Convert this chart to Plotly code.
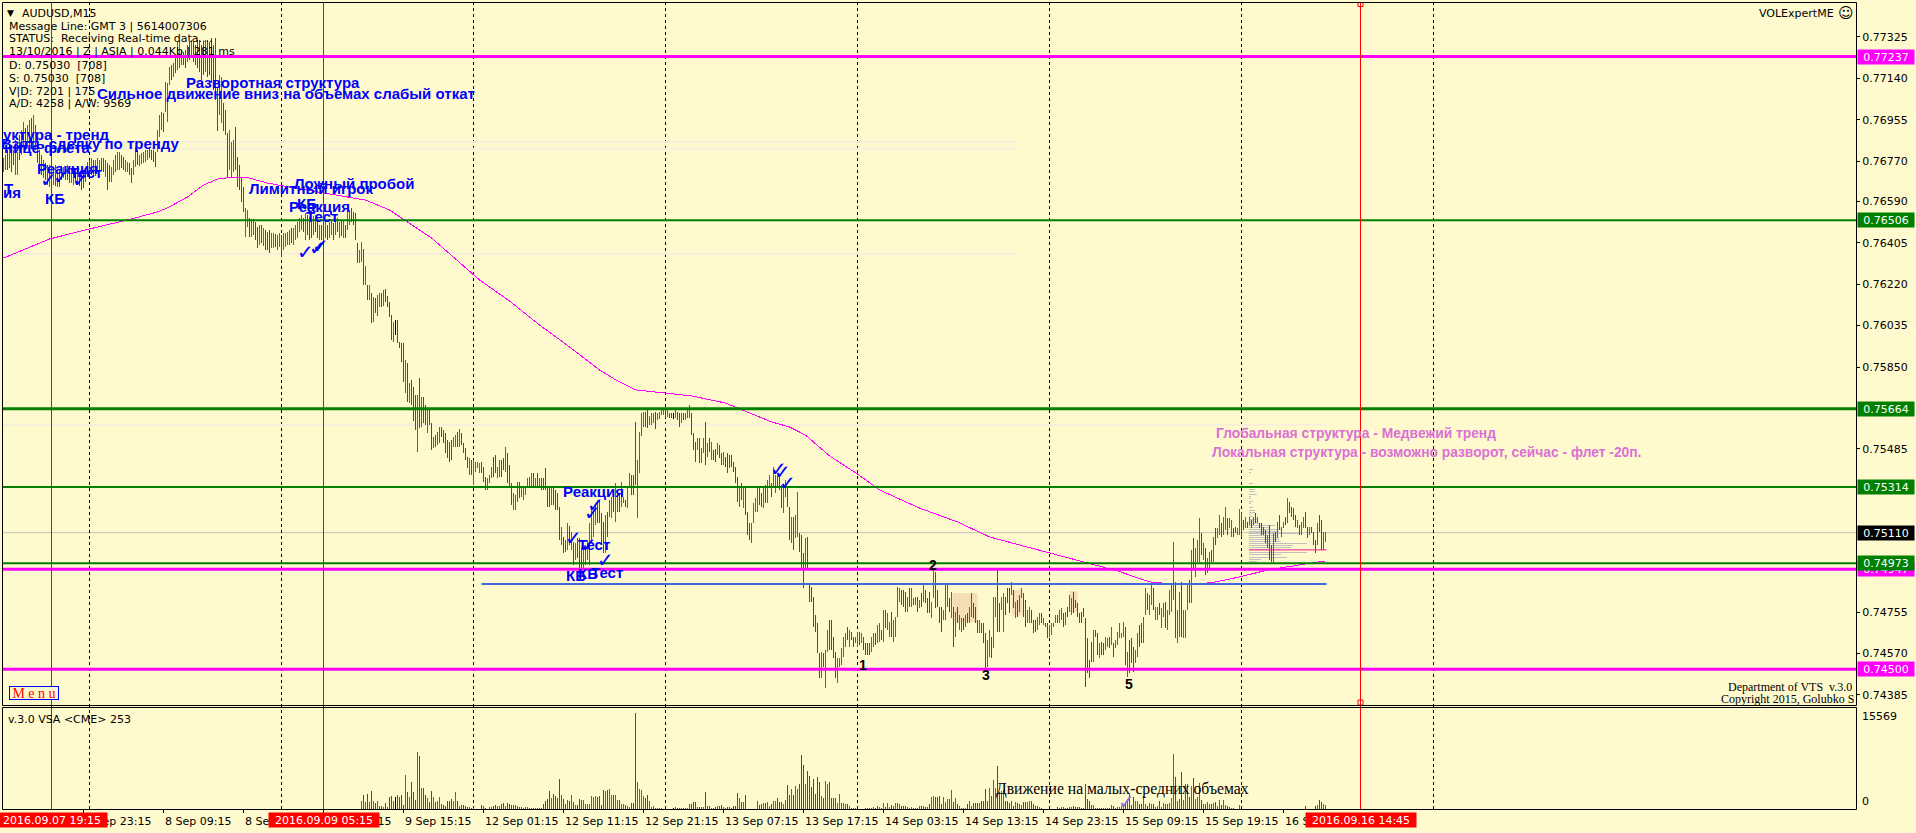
import plotly.graph_objects as go

W, H = 1916, 833

BAR_HIGH = [
76784,76797,76820,76842,76820,76820,76865,76811,76887,76909,
76945,76918,76932,76954,76963,76976,76932,76833,76820,76797,
76775,76762,76753,76753,76744,76731,76753,76722,76731,76748,
76744,76740,76753,76740,76740,76731,76722,76740,76722,76708,
76722,76740,76766,76775,76784,76775,76775,76784,76775,76784,
76784,76775,76762,76753,76744,76775,76797,76811,76811,76797,
76789,76775,76766,76762,76740,76775,76833,76820,76797,76806,
76811,76820,76820,76829,76820,76820,76811,76909,76976,76990,
76985,77124,77119,77191,77200,77209,77231,77302,77307,77267,
77258,77267,77289,77302,77311,77302,77289,77311,77311,77289,
77302,77311,77311,77302,77320,77289,77320,77101,77155,77146,
77030,76999,76896,76909,76856,76865,76923,76789,76753,76699,
76654,76561,76552,76516,76512,76512,76498,76476,76485,76485,
76471,76462,76453,76462,76449,76449,76444,76440,76449,76440,
76449,76449,76453,76462,76471,76471,76485,76498,76516,76529,
76516,76538,76529,76520,76498,76525,76529,76507,76485,76485,
76485,76498,76485,76498,76507,76494,76507,76516,76498,76507,
76507,76485,76543,76552,76561,76543,76538,76404,76373,76409,
76377,76301,76217,76217,76181,76163,76158,76172,76181,76181,
76194,76199,76167,76141,76083,76051,76060,76060,75962,75957,
75957,75882,75868,75779,75792,75761,75725,75725,75801,75716,
75716,75680,75658,75658,75600,75537,75546,75560,75582,75582,
75569,75555,75524,75515,75524,75537,75546,75560,75573,75555,
75511,75488,75448,75444,75435,75435,75426,75426,75421,75426,
75403,75359,75354,75368,75403,75448,75457,75403,75435,75435,
75444,75493,75466,75412,75332,75287,75278,75336,75336,75314,
75310,75314,75354,75359,75377,75377,75354,75377,75354,75354,
75354,75399,75314,75314,75314,75314,75301,75287,75225,75135,
75091,75077,75153,75140,75113,75068,75064,75086,75086,75046,
75046,75055,75077,75153,75225,75211,75234,75247,75256,75198,
75158,75189,75202,75256,75269,75292,75332,75301,75287,75336,
75269,75256,75314,75377,75368,75368,75605,75435,75560,75645,
75649,75649,75658,75631,75645,75645,75649,75645,75649,75658,
75663,75658,75658,75645,75645,75645,75658,75649,75645,75645,
75645,75645,75667,75680,75645,75555,75515,75533,75533,75488,
75533,75604,75511,75533,75515,75479,75484,75511,75502,75466,
75470,75448,75466,75457,75457,75426,75403,75359,75314,75332,
75310,75310,75202,75153,75153,75243,75265,75314,75314,75287,
75310,75323,75345,75368,75332,75403,75368,75368,75359,75323,
75310,75345,75310,75225,75180,75180,75189,75292,75109,75100,
75019,75086,75091,74885,74867,74823,74742,74706,74572,74577,
74572,74586,74675,74720,74720,74644,74577,74550,74550,74595,
74644,74662,74689,74675,74666,74644,74644,74666,74666,74662,
74644,74617,74617,74617,74644,74662,74662,74698,74706,74675,
74765,74765,74751,74711,74756,74720,74733,74867,74863,74854,
74854,74845,74823,74863,74863,74818,74823,74823,74809,74840,
74885,74854,74818,74845,74800,74943,74934,74854,74778,74778,
74765,74876,74876,74818,74845,74778,74756,74778,74742,74729,
74729,74742,74751,74778,74840,74796,74778,74720,74720,74706,
74706,74662,74631,74675,74644,74823,74823,74943,74796,74823,
74840,74823,74863,74863,74890,74854,74800,74809,74832,74863,
74840,74809,74765,74778,74765,74720,74720,74733,74751,74751,
74729,74706,74706,74697,74706,74706,74742,74742,74765,74773,
74751,74756,74778,74832,74818,74845,74809,74796,74751,74756,
74773,74729,74639,74541,74622,74675,74675,74662,74617,74622,
74617,74644,74639,74644,74689,74617,74631,74666,74706,74662,
74711,74689,74577,74631,74639,74599,74586,74662,74697,74706,
74733,74863,74840,74832,74876,74863,74778,74778,74796,74773,
74796,74800,74765,74854,74885,75068,74890,74765,74845,74890,
74765,74765,74885,74899,75033,75086,75042,75077,75176,75109,
75064,75042,74997,75024,75033,75091,75131,75131,75189,75153,
75180,75225,75176,75176,75167,75131,75135,75131,75216,75202,
75167,75180,75158,75180,75167,75180,75198,75180,75153,75153,
75135,75122,75100,75144,75055,75109,75113,75158,75189,75135,
75158,75180,75265,75247,75225,75220,75189,75167,75144,75158,
75180,75202,75135,75135,75135,75113,75077,75153,75189,75167,75113,75113,
]

BAR_LOW = [
76722,76731,76731,76740,76722,76753,76708,76708,76775,76797,
76833,76820,76829,76842,76842,76833,76820,76762,76731,76708,
76695,76686,76663,76654,76650,76663,76659,76654,76654,76686,
76695,76686,76686,76672,76672,76663,76672,76663,76659,76641,
76650,76677,76699,76695,76708,76699,76704,76722,76722,76731,
76722,76699,76641,76677,76677,76708,76722,76731,76731,76739,
76731,76722,76722,76708,76672,76708,76744,76753,76748,76757,
76762,76766,76775,76784,76775,76766,76744,76811,76878,76909,
76900,76990,76945,77110,77133,77146,77164,77177,77186,77200,
77200,77186,77213,77222,77231,77213,77200,77186,77168,77133,
77155,77168,77146,77155,77119,77088,77043,76905,76976,76940,
76905,76887,76699,76731,76699,76721,76731,76654,76641,76587,
76543,76431,76476,76431,76431,76440,76418,76382,76395,76404,
76391,76373,76373,76360,76382,76382,76386,76373,76386,76342,
76373,76386,76395,76395,76404,76395,76418,76427,76453,76462,
76453,76418,76440,76418,76427,76440,76453,76427,76418,76418,
76404,76427,76418,76427,76440,76418,76440,76453,76427,76436,
76427,76427,76462,76485,76498,76485,76418,76315,76315,76319,
76217,76217,76150,76150,76047,76051,76091,76078,76118,76118,
76123,76141,76118,76074,75971,75962,75993,75957,75935,75872,
75783,75734,75694,75689,75680,75609,75569,75470,75578,75582,
75600,75591,75555,75591,75479,75488,75493,75502,75511,75537,
75511,75466,75444,75426,75435,75493,75493,75493,75493,75502,
75466,75435,75399,75368,75368,75323,75381,75399,75377,75377,
75336,75301,75301,75332,75354,75359,75377,75354,75359,75359,
75390,75381,75332,75314,75234,75211,75211,75247,75265,75269,
75256,75278,75310,75314,75314,75314,75314,75314,75310,75301,
75301,75301,75225,75225,75234,75234,75211,75211,75077,75055,
75019,75024,75033,75055,75033,74966,74988,74997,74952,74943,
74943,74966,74988,74966,75068,75091,75144,75153,75153,75055,
75019,75019,75091,75180,75176,75202,75158,75202,75202,75225,
75243,75225,75220,75314,75278,75278,75323,75176,75377,75542,
75582,75582,75578,75591,75591,75600,75573,75613,75618,75636,
75636,75622,75627,75622,75622,75618,75622,75613,75582,75600,
75613,75613,75622,75622,75546,75479,75426,75479,75421,75421,
75466,75412,75448,75470,75435,75435,75426,75457,75444,75412,
75412,75403,75377,75399,75403,75381,75332,75247,75225,75256,
75220,75189,75100,75077,75064,75153,75202,75202,75234,75225,
75220,75243,75243,75310,75269,75314,75287,75310,75301,75220,
75198,75269,75225,75077,75064,75033,75086,75091,75024,74943,
74863,74943,74943,74800,74800,74689,74666,74572,74461,74461,
74510,74416,74577,74586,74586,74550,74461,74438,74510,74519,
74555,74599,74631,74599,74631,74599,74617,74599,74608,74617,
74586,74563,74563,74563,74577,74599,74608,74617,74622,74631,
74622,74684,74675,74644,74644,74622,74644,74733,74800,74787,
74778,74756,74756,74778,74778,74787,74787,74756,74773,74778,
74800,74796,74751,74751,74729,74818,74773,74778,74707,74666,
74720,74720,74778,74756,74729,74599,74644,74707,74675,74666,
74675,74689,74707,74707,74733,74729,74707,74662,74662,74662,
74617,74496,74510,74555,74550,74595,74733,74666,74666,74765,
74666,74742,74796,74751,74832,74773,74729,74733,74756,74818,
74733,74689,74707,74707,74707,74662,74666,74675,74697,74707,
74697,74689,74639,74644,74653,74689,74707,74707,74707,74720,
74689,74697,74733,74756,74742,74751,74773,74733,74707,74707,
74733,74421,74483,74461,74532,74532,74644,74563,74550,74563,
74563,74586,74599,74595,74608,74555,74595,74608,74639,74639,
74644,74519,74465,74483,74528,74487,74528,74555,74599,74617,
74617,74742,74765,74742,74787,74765,74720,74720,74742,74684,
74733,74684,74675,74742,74756,74809,74640,74617,74644,74644,
74640,74640,74765,74796,74796,74952,74912,74979,74979,75010,
74988,74921,74930,74952,74979,74979,75055,75086,75100,75091,
75100,75122,75100,75131,75091,75091,75109,75100,75100,75091,
75122,75131,75131,75144,75131,75144,75153,75153,75131,75100,
75100,75064,75042,74988,74979,74979,75068,75086,75122,75091,
75131,75144,75153,75198,75180,75167,75135,75131,75100,75100,
75131,75131,75086,75100,75109,75055,75019,75055,75113,75033,75033,75068,
]

BAR_DIR = (
"GGRGRRGGRG" "GRGGRGRRRR" "GRRGRGRGRR" "GGRRGGRGRR" "RRGRGRGGGR"
"RGRRGGGGGR" "RGGRRGGRGG" "GGGRRRRGGG" "RGGGRGRGGG" "RRGRGRRRRR"
"RGRRRRRRGG" "RRRGGGRRRR" "RGGRGGRRGR" "GRRRGGRGGR" "GGGGRGGGGG"
"RGRRRGRRGR" "RGRGGRGRGR" "GRGGRRRRGG" "RGRGRGRGGR" "GRRRRGKRRR"
"RGRGRRRGRG" "RRGRRGRGGR" "RRRRRGGRGR" "RRRGRGGGGR" "RRGGGRRGGR"
"RGRRRGGGRG" "GGGGGRGRGR" "RRRRGRRRRG" "RRGRGRGRRR" "GGGGGGGRRR"
"RGRGGRGGRG" "GRGGRRRGGG" "GRRGGGRGGG" "GRGRRKGRRG" "RGGGRRRGRG"
"GRGRGRRGRR" "GRRRRRRRGR" "GRRRGGGGRR" "GRGGRGGRRR" "GGRRGRGGRR"
"RGRRRRRRRG" "RGGRRRRGGG" "GGRGRRGGRG" "RRRRGGRGGR" "GRGGRGGGGR"
"RRGRGRGRGR" "GRRRGGRRRR" "GGGRGRGRGG" "RGRGGRRRGR" "RRGGRGGRRG"
"GRRRGRGRGG" "RRGGRRRGGR" "GRRGGGGRGG" "RGRGGRRRRR" "RRRRRGRRGR"
"RGGRGRGGGG" "GRGRRRGGRR" "GGRGGRGGRG" "GRGGGGRGGR" "GGGRGRGGGR"
"GRGGRGRGGR" "GGRGGRRGGR" "RGRGRGRGRR" "RRGRRGRGRG" "GRGRRRRGRG"
"GRRGRRRGRRGG"
)

VOLUME_START_BAR = 179
VOLUME = [
1232,2156,1078,2310,1078,2772,1232,924,1232,462,
462,308,924,308,1848,2002,1232,1848,2156,1848,
2156,616,5236,2618,1848,4158,2618,1386,8778,8162,
3234,3234,2156,1694,1078,2772,1848,1078,1232,1848,
770,616,462,1232,1232,1540,1232,2618,1232,462,
616,616,462,308,308,154,154,0,0,0,
616,462,154,0,308,308,462,616,462,462,
770,924,462,924,770,616,616,616,462,308,
308,154,308,308,154,154,154,154,154,154,
154,770,1232,1540,2772,1694,2310,2002,1694,4620,
2156,1540,770,1386,1232,2156,1078,616,616,1540,
1386,1386,770,770,770,2002,1848,2002,1848,2002,
616,2926,2772,2926,3080,2156,2156,2156,1386,1386,
770,770,616,462,308,924,924,14784,4158,3080,
2926,2002,1694,2156,1232,308,462,154,154,154,
154,0,0,0,0,0,154,308,154,154,
154,154,154,154,770,770,1078,1078,308,308,
308,308,2618,462,462,154,154,308,462,462,
616,308,154,308,308,154,462,462,2464,1694,
1078,1078,2156,0,0,0,0,0,1232,616,
770,924,924,1078,462,770,1232,1232,1694,1078,
1078,770,1386,3696,2156,3080,2156,3542,3080,3850,
8316,6776,3850,5852,5082,3388,4620,2310,4928,4158,
2002,1694,4312,3850,4158,1694,1694,1694,924,2310,
924,924,770,770,462,154,154,154,0,0,
0,0,154,154,154,154,308,154,462,308,
154,924,308,924,308,616,462,924,924,770,
462,462,462,308,154,308,154,154,154,462,
462,462,308,308,770,1848,2002,1848,1848,2002,
770,1848,1078,1540,1540,2926,1078,1694,770,462,
154,154,154,770,1232,462,924,924,924,924,
1232,1232,3080,1232,3234,2002,4466,3234,6622,2618,
2772,2926,1232,1232,924,1232,462,1078,924,770,
616,1078,1078,1078,1232,1232,770,462,462,308,
154,0,0,0,0,0,0,0,308,154,
308,308,154,154,308,308,462,308,308,308,
154,154,3850,1540,1232,616,616,154,154,154,
154,154,154,154,154,616,462,154,308,308,
462,770,1078,1540,2310,616,1848,1232,1232,770,
770,2002,770,462,924,770,770,308,462,1232,
308,924,770,770,924,1694,8470,4928,1232,1540,
5698,1386,3850,3850,1848,3542,4774,1540,1848,4004,
1386,770,770,1078,770,770,924,1078,462,1386,
616,1386,616,462,308,154,154,0,0,616,
0,0,0,0,0,0,0,0,0,0,0,0,0,0,0,0,
0,0,0,0,0,0,0,0,0,0,0,0,0,0,0,0,
462,0,0,0,0,462,616,1386,1078,770,616,
]

MA_BAR = [0,13,23,43,62,77,82,92,100,107,115,121,132,143,158,172,181,193,200,214,
          238,253,268,283,298,307,316,336,344,361,368,384,393,401,413,427,438,458,477,493,
          508,523,541,557,573,584,598,606,618,632,648,661]
MA_PRICE = [76337,76386,76422,76467,76507,76543,76561,76610,76663,76690,76699,76699,76672,76654,76632,76610,76596,76552,76511,76427,
            76239,76145,76038,75940,75837,75788,75748,75730,75721,75689,75663,75605,75582,75546,75453,75372,75301,75220,75158,75091,
            75055,75019,74974,74939,74890,74881,74881,74890,74912,74943,74966,74984]

PROFILE_PRICE = [75393,75380,75331,75304,75293,75282,75273,75264,75250,75241,75223,75211,75202,75192,75181,75170,75159,75152,
                 75143,75134,75125,75116,75107,75098,75089,75080,75071,75062,75053,75045,75036,75022,75014,75000,74991,74982]
PROFILE_SIZE = [2,1,2,3,3,4,1,1,2,1,2,3,3,1,2,4,4,5,13,10,16,15,25,14,15,15,16,29,22,21,16,29,16,19,6,4]
PROFILE_START_BAR = 622.75

LEVEL_PRICE = [0.77237, 0.76506, 0.75664, 0.75314, 0.74973, 0.74947, 0.74500]
LEVEL_COLOR = ["#FF00FF", "#008000", "#008000", "#008000", "#008000", "#FF00FF", "#FF00FF"]
LEVEL_WIDTH = [3, 2, 3, 2, 2, 3, 3]
LEVEL_LABEL = ["0.77237", "0.76506", "0.75664", "0.75314", "0.74973", "0.74947", "0.74500"]
BID_PRICE = 0.75110
SUPPORT_PRICE = 0.74881
SUPPORT_BARS = [239, 661.5]
FAINT_PRICE = [0.76857, 0.76825, 0.76356, 0.75592]
FAINT_END_BAR = [507, 507, 507, 661.5]
POC_PRICE = 0.75033

Y_TICKS = [0.77325, 0.77140, 0.76955, 0.76770, 0.76590, 0.76405, 0.76220, 0.76035, 0.75850, 0.75485, 0.74755, 0.74570, 0.74385]
DAY_SEPARATOR_BARS = [43, 139, 235, 331, 427, 523, 619, 715]
TIME_TICK_BARS = [40, 80, 120, 160, 200, 240, 280, 320, 360, 400, 440, 480, 520, 560, 600, 640]
TIME_TICK_LABELS = ["7 Sep 23:15", "8 Sep 09:15", "8 Sep 19:15", "9 Sep 05:15", "9 Sep 15:15", "12 Sep 01:15",
                    "12 Sep 11:15", "12 Sep 21:15", "13 Sep 07:15", "13 Sep 17:15", "14 Sep 03:15", "14 Sep 13:15",
                    "14 Sep 23:15", "15 Sep 09:15", "15 Sep 19:15", "16 Sep 05:15"]
CURSOR_BARS = [24, 160, 678.5]
CURSOR_LABELS = ["2016.09.07 19:15", "2016.09.09 05:15", "2016.09.16 14:45"]

# tan zones: bars and prices
ZONE_BAR0 = [474.5, 504, 533]
ZONE_BAR1 = [487, 509.5, 537]
ZONE_HIGH = [0.74840, 0.74855, 0.74850]
ZONE_LOW = [0.74710, 0.74740, 0.74755]

CHECK_TEXT = [(48,180),(62,177),(80,180),(305,252),(317,248),(320,246),(573,538),(588,545),(595,505),(592,513),
              (605,560),(778,469),(782,472),(787,483)]

HEADER_LINES = ["Message Line: GMT 3 | 5614007306", "STATUS:  Receiving Real-time data....",
                "13/10/2016 | Z | ASIA | 0.044Kb | 281 ms", "D: 0.75030  [708]", "S: 0.75030  [708]",
                "V|D: 7201 | 175", "A/D: 4258 | A/W: 9569"]

# Screen helpers: only for text placement
px = lambda v: v / W
py = lambda v: 1 - v / H
MONO = "DejaVu Sans"
BOLD = "Liberation Sans"
SERIF = "Liberation Serif"

idx = list(range(len(BAR_DIR)))
COLORS = {"G": "#228B22", "R": "#FF0000", "K": "#000000"}

def segments(xs, lo, hi):
    xo, yo = [], []
    for a, b, c in zip(xs, lo, hi):
        xo += [a, a, None]
        yo += [b, c, None]
    return xo, yo

fig = go.Figure()

# volume profile rows
pxs, pys = [], []
for p, s in zip(PROFILE_PRICE, PROFILE_SIZE):
    pxs += [PROFILE_START_BAR, PROFILE_START_BAR + s, None]
    pys += [p / 1e5, p / 1e5, None]
fig.add_trace(go.Scatter(x=pxs, y=pys, mode="lines", line=dict(color="#C0C0C0", width=1),
                         xaxis="x", yaxis="y", showlegend=False, hoverinfo="skip"))

for key, col in COLORS.items():
    sel = [i for i in idx if BAR_DIR[i] == key]
    xo, yo = segments(sel, [BAR_LOW[i] / 1e5 for i in sel], [BAR_HIGH[i] / 1e5 for i in sel])
    fig.add_trace(go.Scatter(x=xo, y=yo, mode="lines", line=dict(color=col, width=1), xaxis="x", yaxis="y",
                             showlegend=False, hoverinfo="skip"))
    vsel = [i for i in sel if VOLUME_START_BAR <= i < VOLUME_START_BAR + len(VOLUME)
            and VOLUME[i - VOLUME_START_BAR] > 0]
    xo, yo = segments(vsel, [0] * len(vsel), [VOLUME[i - VOLUME_START_BAR] for i in vsel])
    fig.add_trace(go.Scatter(x=xo, y=yo, mode="lines", line=dict(color=col, width=1), xaxis="x", yaxis="y2",
                             showlegend=False, hoverinfo="skip"))

fig.add_trace(go.Scatter(x=MA_BAR, y=[v / 1e5 for v in MA_PRICE], mode="lines",
                         line=dict(color="#FF00FF", width=1), xaxis="x", yaxis="y", showlegend=False))
fig.add_trace(go.Scatter(x=[CURSOR_BARS[2]] * 2, y=[0.77472, 0.74351], mode="markers",
                         marker=dict(symbol="square-open", size=5, color="#FF0000", line=dict(width=1)),
                         xaxis="x", yaxis="y", showlegend=False))

shapes = []
for x0, x1, hi, lo in zip(ZONE_BAR0, ZONE_BAR1, ZONE_HIGH, ZONE_LOW):
    shapes.append(dict(type="rect", xref="x", yref="y", x0=x0, x1=x1, y0=lo, y1=hi, layer="below",
                       fillcolor="#F5DEB3", line=dict(width=0)))
for p, end in zip(FAINT_PRICE, FAINT_END_BAR):
    shapes.append(dict(type="line", xref="x", yref="y", x0=-0.75, x1=end, y0=p, y1=p, layer="below",
                       line=dict(color="#F8EEDC", width=2)))
shapes.append(dict(type="line", xref="paper", yref="y", x0=px(2), x1=px(1856), y0=BID_PRICE, y1=BID_PRICE,
                   layer="below", line=dict(color="#C0C0C0", width=1)))
for b in DAY_SEPARATOR_BARS:
    shapes.append(dict(type="line", xref="x", yref="paper", x0=b, x1=b, y0=py(809), y1=py(2), layer="below",
                       line=dict(color="#000000", width=1, dash="3px,3px")))
for p, c, w in zip(LEVEL_PRICE, LEVEL_COLOR, LEVEL_WIDTH):
    shapes.append(dict(type="line", xref="paper", yref="y", x0=px(2), x1=px(1856), y0=p, y1=p,
                       line=dict(color=c, width=w)))
shapes.append(dict(type="line", xref="x", yref="y", x0=SUPPORT_BARS[0], x1=SUPPORT_BARS[1], y0=SUPPORT_PRICE,
                   y1=SUPPORT_PRICE, line=dict(color="#4169E1", width=2)))
shapes.append(dict(type="line", xref="x", yref="y", x0=PROFILE_START_BAR, x1=661.5, y0=POC_PRICE, y1=POC_PRICE,
                   line=dict(color="#FF1493", width=1)))
for b in CURSOR_BARS:
    shapes.append(dict(type="line", xref="x", yref="paper", x0=b, x1=b, y0=py(809), y1=py(2),
                       line=dict(color="#FF0000", width=1)))
shapes.append(dict(type="rect", xref="paper", yref="paper", x0=px(2.5), x1=px(1856.5), y0=py(705.5), y1=py(2.5),
                   line=dict(color="#000000", width=1)))
shapes.append(dict(type="rect", xref="paper", yref="paper", x0=px(2.5), x1=px(1856.5), y0=py(809.5), y1=py(707.5),
                   line=dict(color="#000000", width=1)))

notes = []
def note(text, x, y, size=11, color="#000000", family=MONO, anchor="left", bold=False, **kw):
    t = f"<b>{text}</b>" if bold else text
    notes.append(dict(text=t, x=px(x), y=py(y), xref="paper", yref="paper", xanchor=anchor, yanchor="middle",
                      showarrow=False, font=dict(size=size, color=color, family=family), borderpad=0, **kw))

note("▼", 6, 13, size=9)
note("AUDUSD,M15", 21, 13)
for k, line in enumerate(HEADER_LINES):
    note(line, 8, 26 + 13 * k)
note("VOLExpertME", 1758, 13)
note("☺", 1837, 13, size=15)

blue = dict(size=15, color="#0000FF", family=BOLD, bold=True)
note("Разворотная структура", 185, 82, **blue)
note("Сильное движение вниз на объемах слабый откат", 96, 93, **blue)
note("уктура - тренд", 2, 135, **blue)
note("Взять сделку по тренду", 181, 143, anchor="right", **blue)
note("нице флета", 3, 147, **blue)
note("Реакция", 36, 169, **blue)
note("Тест", 69, 173, **blue)
note("КБ", 44, 198, **blue)
note("Т", 3, 188, **blue)
note("ия", 2, 193, **blue)
note("Ложный пробой", 293, 184, **blue)
note("Лимитный игрок", 248, 188, **blue)
note("КБ", 296, 203, **blue)
note("Реакция", 288, 206, **blue)
note("Тест", 305, 217, **blue)
note("Реакция", 562, 492, **blue)
note("Тест", 577, 544, **blue)
note("Тест", 590, 572, **blue)
note("КБ", 565, 575, **blue)
note("КБ", 577, 573, **blue)
for cx, cy in CHECK_TEXT:
    note("✓", cx, cy, size=20, color="#0000FF", anchor="center")
note("✓", 1126, 802, size=20, color="#9370DB", anchor="center")

pink = dict(size=13.8, color="#DA70D6", family=BOLD, bold=True)
note("Глобальная структура - Медвежий тренд", 1215, 433.5, **pink)
note("Локальная структура - возможно разворот, сейчас - флет -20п.", 1211, 452, **pink)
for t, nx, ny in [("1", 863, 665), ("2", 933, 565), ("3", 986, 675), ("5", 1129, 684)]:
    note(t, nx, ny, size=14, family=BOLD, anchor="center", bold=True)

note("Движение на малых-средних объемах", 995, 789, size=15.7, family=SERIF)
note("Department of VTS  v.3.0", 1853, 687, size=12, family=SERIF, anchor="right")
note("Copyright 2015, Golubko S", 1855, 699, size=12, family=SERIF, anchor="right")
note("M e n u", 33.5, 692.5, size=14, color="#FF0000", family=SERIF, anchor="center",
     bordercolor="#0000FF", borderwidth=1, bgcolor="#FFFACD", width=48, height=12)
note("v.3.0 VSA &lt;CME&gt; 253", 7, 719)
note("15569", 1861, 716.5)
note("0", 1861, 801.5)

for p, c, lab in sorted(zip(LEVEL_PRICE, LEVEL_COLOR, LEVEL_LABEL), key=lambda r: r[2] == "0.74973"):
    notes.append(dict(text=lab, x=px(1886), y=p, xref="paper", yref="y", xanchor="center", yanchor="middle",
                      showarrow=False, font=dict(size=11, color="#FFFFFF", family=MONO), bgcolor=c,
                      width=56, height=14, borderpad=0))
notes.append(dict(text=f"{BID_PRICE:.5f}", x=px(1886), y=BID_PRICE, xref="paper", yref="y", xanchor="center",
                  yanchor="middle", showarrow=False, font=dict(size=11, color="#FFFFFF", family=MONO),
                  bgcolor="#000000", width=56, height=14, borderpad=0))

for b, lab in zip(TIME_TICK_BARS, TIME_TICK_LABELS):
    notes.append(dict(text=lab, x=b, y=py(821), xref="x", yref="paper", xanchor="left", yanchor="middle",
                      showarrow=False, font=dict(size=11, color="#000000", family=MONO), borderpad=0))
for b, lab in zip(CURSOR_BARS, CURSOR_LABELS):
    notes.append(dict(text=lab, x=b, y=py(820), xref="x", yref="paper", xanchor="center", yanchor="middle",
                      showarrow=False, font=dict(size=11, color="#FFFFFF", family=MONO), bgcolor="#FF0000",
                      width=110, height=14, borderpad=0))

fig.update_layout(
    width=W, height=H, margin=dict(l=0, r=0, t=0, b=0), autosize=False,
    paper_bgcolor="#FFFACD", plot_bgcolor="#FFFACD", showlegend=False, hovermode=False,
    shapes=shapes, annotations=notes,
    xaxis=dict(domain=[px(2), px(1856)], range=[-0.75, 926.25], anchor="y2", showgrid=False, zeroline=False,
               showline=False, ticks="outside", ticklen=3, tickcolor="#000000", tickmode="array",
               tickvals=TIME_TICK_BARS, showticklabels=False),
    yaxis=dict(domain=[py(705), py(2)], range=[0.74340, 0.77481], anchor="x", side="right", showgrid=False,
               zeroline=False, showline=False, ticks="outside", ticklen=3, tickcolor="#000000", tickmode="array",
               tickvals=Y_TICKS, ticktext=[f"{v:.5f}" for v in Y_TICKS],
               tickfont=dict(size=11, color="#000000", family=MONO)),
    yaxis2=dict(domain=[py(809), py(708)], range=[0, 15569], anchor="x", side="right", showgrid=False,
                zeroline=False, showline=False, ticks="", showticklabels=False),
)

CRISP = """
document.body.style.margin='0';document.documentElement.style.overflow='hidden';
function crisp(){document.querySelectorAll('path.js-line').forEach(function(p){p.style.shapeRendering='crispEdges';});}
crisp();setTimeout(crisp,50);
"""
fig.write_html("out.html", config={"displayModeBar": False}, post_script=CRISP)
